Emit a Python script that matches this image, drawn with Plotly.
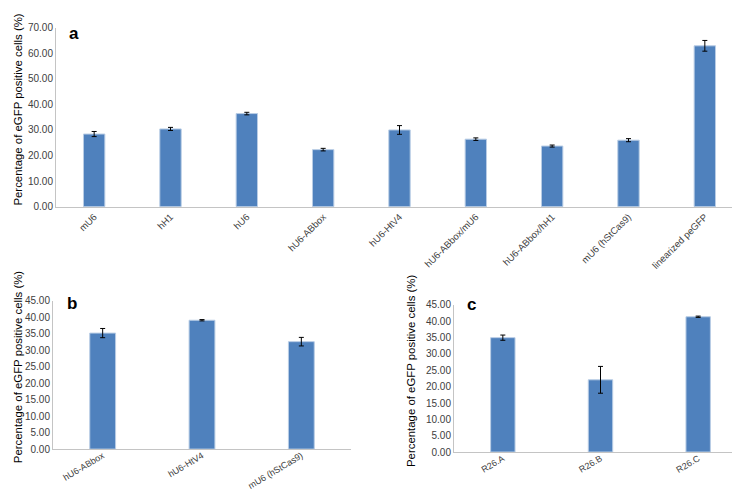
import plotly.graph_objects as go

W, H = 740, 490

cats_a = ["mU6", "hH1", "hU6", "hU6-ABbox", "hU6-HtV4", "hU6-ABbox/mU6",
          "hU6-ABbox/hH1", "mU6 (hStCas9)", "linearized peGFP"]
vals_a = [28.4, 30.4, 36.4, 22.3, 30.0, 26.4, 23.7, 26.0, 62.9]
err_a = [1.0, 0.6, 0.5, 0.5, 1.7, 0.5, 0.4, 0.6, 2.1]

cats_b = ["hU6-ABbox", "hU6-HtV4", "mU6 (hStCas9)"]
vals_b = [35.2, 39.1, 32.6]
err_b = [1.4, 0.2, 1.3]

cats_c = ["R26.A", "R26.B", "R26.C"]
vals_c = [35.0, 22.1, 41.4]
err_c = [0.8, 4.1, 0.2]

ticks_a = [0, 10, 20, 30, 40, 50, 60, 70]
ticks_bc = [0, 5, 10, 15, 20, 25, 30, 35, 40, 45]

BAR = "#4f81bd"
EDGE = "#b9cde5"
FONT = "Liberation Sans, Arial, sans-serif"
TXT = "#404040"
AXIS = "#c4c4c4"
YTITLE = "Percentage of eGFP positive cells (%)"

def px_x(a, b):
    return [a / W, b / W]

def px_y(top, bottom):
    return [(H - bottom) / H, (H - top) / H]

fig = go.Figure()

def add_bars(cats, vals, errs, xa, ya, width):
    fig.add_trace(go.Bar(
        x=cats, y=vals, xaxis=xa, yaxis=ya, width=width,
        marker=dict(color=BAR, line=dict(color=EDGE, width=1)),
        error_y=dict(type="data", array=errs, visible=True,
                     color="#000000", thickness=1, width=2.5),
        showlegend=False,
    ))

add_bars(cats_a, vals_a, err_a, "x", "y", 0.28)
add_bars(cats_b, vals_b, err_b, "x2", "y2", 0.26)
add_bars(cats_c, vals_c, err_c, "x3", "y3", 0.25)

xcommon = dict(showline=True, linecolor=AXIS, linewidth=1, ticks="",
               showgrid=False, zeroline=False, tickangle=-45,
               tickfont=dict(family=FONT, size=9.5, color=TXT))
ycommon = dict(showline=True, linecolor=AXIS, linewidth=1, ticks="",
               showgrid=False, zeroline=False,
               tickformat=".2f", tickfont=dict(family=FONT, size=10, color=TXT))

fig.update_layout(
    width=W, height=H,
    margin=dict(l=0, r=0, t=0, b=0),
    paper_bgcolor="white", plot_bgcolor="white",
    font=dict(family=FONT),
    xaxis=dict(domain=px_x(48, 735), anchor="y", **xcommon),
    yaxis=dict(domain=px_y(14, 197.5), anchor="x", range=[0, 70],
               tickvals=ticks_a, **ycommon),
    xaxis2=dict(domain=px_x(45, 343), anchor="y2", **xcommon),
    yaxis2=dict(domain=px_y(294, 446), anchor="x2", range=[0, 45],
                tickvals=ticks_bc, **ycommon),
    xaxis3=dict(domain=px_x(446, 739), anchor="y3", **xcommon),
    yaxis3=dict(domain=px_y(298.3, 449), anchor="x3", range=[0, 45],
                tickvals=ticks_bc, **ycommon),
)
fig.update_layout(xaxis2=dict(tickangle=-31, tickfont=dict(size=9),
                              ticklabelstandoff=-3),
                  xaxis3=dict(tickangle=-31, tickfont=dict(size=9),
                              ticklabelstandoff=-3))

ann = []
for (x, y, t) in [(10, 98, YTITLE), (10, 362, YTITLE), (403, 366, YTITLE)]:
    ann.append(dict(x=x / W, y=(H - y) / H, xref="paper", yref="paper",
                    text=t, textangle=-90, showarrow=False,
                    font=dict(family=FONT, size=11.4, color="#000000"),
                    xanchor="center", yanchor="middle"))
for (x, y, t) in [(66, 20, "a"), (64, 297, "b"), (463, 298, "c")]:
    ann.append(dict(x=x / W, y=(H - y) / H, xref="paper", yref="paper",
                    text="<b>" + t + "</b>", showarrow=False,
                    font=dict(family=FONT, size=17, color="#000000"),
                    xanchor="center", yanchor="middle"))
fig.update_layout(annotations=ann)

fig.write_html("out.html")
